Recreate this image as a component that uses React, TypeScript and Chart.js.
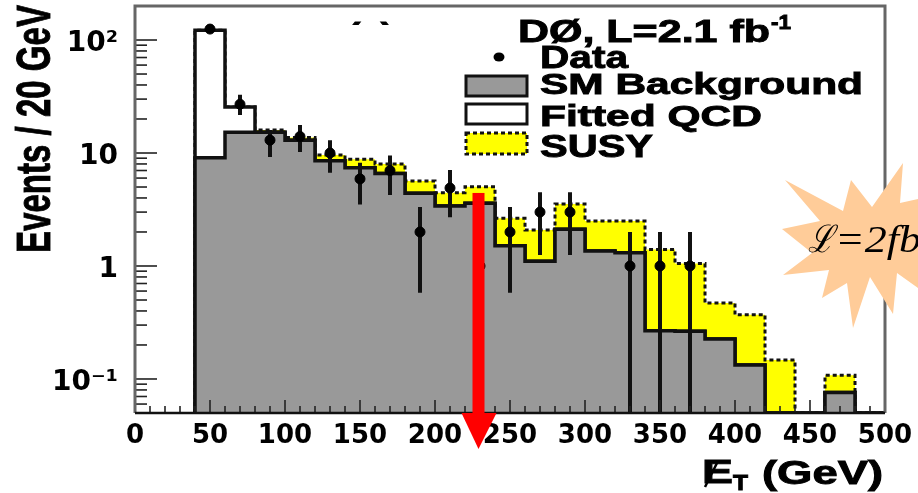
import React, { useEffect, useRef } from "react";
import { Chart, registerables } from "chart.js";

Chart.register(...registerables);

// bin layout
const binStart = 40;
const binWidth = 20;
const yFloor = 0.05;
const yCeil = 200;

// stacked histogram tops per 20 GeV bin starting at 40 GeV (0 = nothing in the bin)
const smBackground = [9.1, 15.3, 15.3, 13, 8.56, 7.4, 6.6, 4.4, 3.4, 3.6, 1.51, 1.1, 2.11, 1.36, 1.31, 0.267, 0.265, 0.226, 0.133, 0, 0, 0.076, 0];
const withQcd = [122, 25.5, 15.3, 13, 8.56, 7.4, 6.6, 4.4, 3.4, 3.6, 1.51, 1.1, 2.11, 1.36, 1.31, 0.267, 0.265, 0.226, 0.133, 0, 0, 0.076, 0];
const withSusy = [122, 25.5, 16, 13.7, 9.6, 8.8, 8.0, 5.65, 4.46, 5.03, 2.64, 2.08, 3.54, 2.5, 2.5, 1.4, 1.05, 0.47, 0.37, 0.147, 0, 0.108, 0];

// data points with error bars
const dataX = [50, 70, 90, 110, 130, 150, 170, 190, 210, 230, 250, 270, 290, 330, 350, 370];
const dataY = [125, 27, 13, 14, 10, 5.9, 7, 2, 4.9, 1, 2, 3, 3, 1, 1, 1];
const dataHigh = [135, 32.8, 16, 17.7, 13, 8.2, 9.5, 3.33, 7.07, 2, 3.33, 4.5, 4.5, 2, 2, 2];
const dataLow = [115, 21.7, 9.2, 10.2, 6.7, 3.5, 4.25, 0.58, 2.7, 0.05, 0.58, 1.25, 1.25, 0.05, 0.05, 0.05];

// axis ticks
const xMajor = [0, 50, 100, 150, 200, 250, 300, 350, 400, 450, 500];
const xMinor = [10, 20, 30, 40, 60, 70, 80, 90, 110, 120, 130, 140, 160, 170, 180, 190, 210, 220, 230, 240, 260, 270, 280, 290, 310, 320, 330, 340, 360, 370, 380, 390, 410, 420, 430, 440, 460, 470, 480, 490];
const yMajor = [0.1, 1, 10, 100];
const yMajorLabels = ["10\u207B\u00B9", "1", "10", "10\u00B2"];
const yMinor = [0.06, 0.07, 0.08, 0.09, 0.2, 0.3, 0.4, 0.5, 0.6, 0.7, 0.8, 0.9, 2, 3, 4, 5, 6, 7, 8, 9, 20, 30, 40, 50, 60, 70, 80, 90];

// cut marker (GeV, events)
const cutGeV = 229;
const cutTop = 4.43;

const sans = "'Liberation Sans', Arial, sans-serif";

function histogram(values: number[]) {
  const pts: { x: number; y: number }[] = [{ x: binStart, y: yFloor }];
  values.forEach((v, i) => pts.push({ x: binStart + i * binWidth, y: Math.max(v, yFloor) }));
  pts.push({ x: binStart + values.length * binWidth, y: Math.max(values[values.length - 1], yFloor) });
  return pts;
}

function errorSegments() {
  const pts: { x: number; y: number }[] = [];
  dataX.forEach((x, i) => {
    pts.push({ x, y: dataLow[i] }, { x, y: dataHigh[i] }, { x, y: NaN });
  });
  return pts;
}

function fitText(ctx: CanvasRenderingContext2D, text: string, x: number, baseline: number, width: number, font: string, heavy = true) {
  ctx.save();
  ctx.font = font;
  ctx.textAlign = "left";
  ctx.textBaseline = "alphabetic";
  const m = ctx.measureText(text).width;
  ctx.translate(x, baseline);
  ctx.scale(width / m, 1);
  ctx.fillText(text, 0, 0);
  if (heavy) {
    ctx.strokeStyle = "#000";
    ctx.lineWidth = 0.9;
    ctx.strokeText(text, 0, 0);
  }
  ctx.restore();
}

function clearScalePadding(s: any) {
  s.paddingTop = 0;
  s.paddingBottom = 0;
  s.paddingLeft = 0;
  s.paddingRight = 0;
}

const decorations = {
  id: "decorations",
  afterDatasetsDraw(chart: any) {
    const { ctx, chartArea: a, scales } = chart;
    const xs = scales.x;
    const ys = scales.y;
    ctx.save();

    // inward ticks
    ctx.strokeStyle = "#222";
    ctx.lineWidth = 1.6;
    const tick = (x1: number, y1: number, x2: number, y2: number) => {
      ctx.beginPath();
      ctx.moveTo(x1, y1);
      ctx.lineTo(x2, y2);
      ctx.stroke();
    };
    xMajor.forEach((v) => tick(xs.getPixelForValue(v), a.bottom, xs.getPixelForValue(v), a.bottom - 13));
    xMinor.forEach((v) => tick(xs.getPixelForValue(v), a.bottom, xs.getPixelForValue(v), a.bottom - 7));
    yMajor.forEach((v) => tick(a.left, ys.getPixelForValue(v), a.left + 22, ys.getPixelForValue(v)));
    yMinor.forEach((v) => tick(a.left, ys.getPixelForValue(v), a.left + 12, ys.getPixelForValue(v)));

    // frame
    ctx.strokeStyle = "#666";
    ctx.lineWidth = 3;
    ctx.beginPath();
    ctx.moveTo(a.left, a.bottom);
    ctx.lineTo(a.left, a.top);
    ctx.lineTo(a.right, a.top);
    ctx.lineTo(a.right, a.bottom);
    ctx.stroke();
    ctx.strokeStyle = "#111";
    ctx.lineWidth = 2.5;
    ctx.beginPath();
    ctx.moveTo(a.left, a.bottom);
    ctx.lineTo(a.right, a.bottom);
    ctx.stroke();

    ctx.fillStyle = "#000";

    // clipped panel letter
    ctx.save();
    ctx.beginPath();
    ctx.rect(340, 21, 60, 4);
    ctx.clip();
    fitText(ctx, "(a)", 348, 42, 45, `bold 28px ${sans}`);
    ctx.restore();

    // y axis title
    ctx.save();
    ctx.translate(50, 253);
    ctx.rotate(-Math.PI / 2);
    fitText(ctx, "Events / 20 GeV", 0, 0, 248, `bold 48px ${sans}`);
    ctx.restore();

    // x axis title
    fitText(ctx, "E", 702, 483, 31, `bold 33px ${sans}`);
    ctx.strokeStyle = "#000";
    ctx.lineWidth = 2.5;
    tick(705, 487, 718, 461);
    fitText(ctx, "T", 733, 490, 15, `bold 22px ${sans}`);
    fitText(ctx, "(GeV)", 762, 484, 121, `bold 33px ${sans}`);

    // legend
    fitText(ctx, "D\u00D8, L=2.1 fb", 518, 42, 252, `bold 31px ${sans}`);
    fitText(ctx, "-1", 771, 29, 20, `bold 20px ${sans}`);
    ctx.beginPath();
    ctx.ellipse(499, 57, 5.5, 4.5, 0, 0, Math.PI * 2);
    ctx.fill();
    fitText(ctx, "Data", 540, 68, 88, `bold 32px ${sans}`);

    ctx.lineWidth = 3;
    ctx.strokeStyle = "#111";
    ctx.fillStyle = "#999999";
    ctx.fillRect(466, 76, 61, 20);
    ctx.strokeRect(466, 76, 61, 20);
    ctx.fillStyle = "#fff";
    ctx.fillRect(466, 104, 61, 20);
    ctx.strokeRect(466, 104, 61, 20);
    ctx.fillStyle = "#ffff00";
    ctx.fillRect(466, 133, 61, 21);
    ctx.setLineDash([4, 3]);
    ctx.strokeRect(466, 133, 61, 21);
    ctx.setLineDash([]);

    ctx.fillStyle = "#000";
    fitText(ctx, "SM Background", 540, 94, 323, `bold 29px ${sans}`);
    fitText(ctx, "Fitted QCD", 540, 126, 222, `bold 30px ${sans}`);
    fitText(ctx, "SUSY", 540, 157, 113, `bold 31px ${sans}`);

    // red cut arrow, anchored to the axes
    const cx = xs.getPixelForValue(cutGeV);
    const cy = ys.getPixelForValue(cutTop);
    ctx.fillStyle = "#ff0000";
    ctx.fillRect(cx - 6, cy, 12, a.bottom - cy);
    ctx.beginPath();
    ctx.moveTo(cx - 17, a.bottom);
    ctx.lineTo(cx + 18, a.bottom);
    ctx.lineTo(cx, a.bottom + 36);
    ctx.closePath();
    ctx.fill();

    // luminosity burst
    const burst = [
      [785, 180], [843, 211], [851, 180], [872, 207], [903, 163], [900, 203], [918, 199],
      [918, 288], [897, 273], [893, 314], [870, 277], [853, 328], [847, 283], [822, 298],
      [829, 270], [783, 275], [812, 253], [782, 229], [820, 221],
    ];
    ctx.fillStyle = "#ffcc99";
    ctx.beginPath();
    burst.forEach(([x, y], i) => (i ? ctx.lineTo(x, y) : ctx.moveTo(x, y)));
    ctx.closePath();
    ctx.fill();
    ctx.fillStyle = "#000";
    const serif = "italic 38px 'Liberation Serif', 'DejaVu Serif', serif";
    fitText(ctx, "\u2112", 808, 252, 26, serif, false);
    fitText(ctx, "=2fb", 835, 252, 86, serif, false);

    ctx.restore();
  },
};

export default function App() {
  const ref = useRef<HTMLCanvasElement>(null);

  useEffect(() => {
    document.body.style.margin = "0";
    document.body.style.overflow = "hidden";
    const line = { stepped: "before" as const, pointRadius: 0, fill: "start" as const, borderJoinStyle: "miter" as const };
    const chart = new Chart(ref.current as HTMLCanvasElement, {
      type: "line",
      data: {
        datasets: [
          { ...line, order: 5, label: "SUSY", data: histogram(withSusy), backgroundColor: "#ffff00", borderColor: "#111", borderWidth: 3, borderDash: [4, 3] },
          { ...line, order: 4, label: "Fitted QCD", data: histogram(withQcd), backgroundColor: "#ffffff", borderColor: "#111", borderWidth: 3.5 },
          { ...line, order: 3, label: "SM Background", data: histogram(smBackground), backgroundColor: "#999999", borderColor: "#111", borderWidth: 3.5 },
          { order: 2, label: "Data errors", data: errorSegments(), borderColor: "#111", borderWidth: 4, pointRadius: 0, spanGaps: false, fill: false },
          { order: 1, label: "Data", data: dataX.map((x, i) => ({ x, y: dataY[i] })), showLine: false, pointRadius: 5, backgroundColor: "#000", borderColor: "#000" },
        ],
      } as any,
      options: {
        animation: false,
        responsive: false,
        layout: { autoPadding: false, padding: { top: 6, right: 33, left: 0, bottom: 0 } },
        plugins: { legend: { display: false }, tooltip: { enabled: false } },
        scales: {
          x: {
            type: "linear",
            min: 0,
            max: 500,
            grid: { display: false },
            border: { display: false },
            afterFit: (s: any) => { s.height = 80; clearScalePadding(s); },
            afterBuildTicks: (s: any) => { s.ticks = xMajor.map((value) => ({ value })); },
            ticks: {
              color: "#000",
              maxRotation: 0,
              autoSkip: false,
              padding: 0,
              font: { family: "'DejaVu Sans'", weight: "bold", size: 26 },
            },
          },
          y: {
            type: "logarithmic",
            min: yFloor,
            max: yCeil,
            grid: { display: false },
            border: { display: false },
            afterFit: (s: any) => { s.width = 135; clearScalePadding(s); },
            afterBuildTicks: (s: any) => { s.ticks = yMajor.map((value) => ({ value })); },
            ticks: {
              color: "#000",
              autoSkip: false,
              padding: 9,
              labelOffset: 4,
              callback: (v: any) => yMajorLabels[yMajor.indexOf(Number(v))] ?? "",
              font: { family: "'DejaVu Sans'", weight: "bold", size: 28 },
            },
          },
        },
      } as any,
      plugins: [decorations],
    });
    return () => chart.destroy();
  }, []);

  return (
    <div style={{ position: "fixed", left: 0, top: 0, width: 918, height: 493, background: "#fff" }}>
      <canvas ref={ref} width={918} height={493} style={{ display: "block" }} />
    </div>
  );
}
